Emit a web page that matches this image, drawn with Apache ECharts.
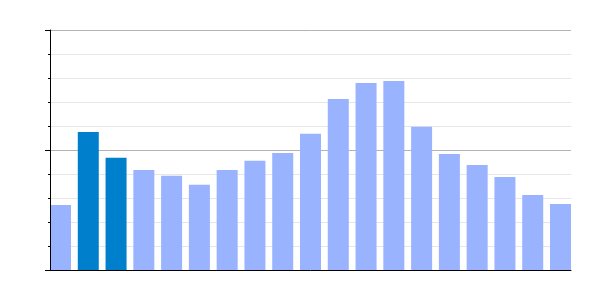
<!DOCTYPE html>
<html><head><meta charset="utf-8">
<script src="https://cdn.jsdelivr.net/npm/echarts@6/dist/echarts.min.js"></script>
<style>html,body{margin:0;padding:0;background:#fff}#c{width:600px;height:300px}</style>
</head><body><div id="c"></div>
<script>
const categories = ['1','2','3','4','5','6','7','8','9','10','11','12','13','14','15','16','17','18','19'];
const values = [27.1, 57.5, 46.8, 41.7, 39.3, 35.5, 41.7, 45.5, 48.75, 56.8, 71.25, 77.9, 78.75, 59.7, 48.3, 43.75, 38.75, 31.25, 27.5];
const highlighted = [1, 2];
const yMin = 0, yMax = 100, yInterval = 50;

const chart = echarts.init(document.getElementById('c'), null, {renderer: 'canvas'});
chart.setOption({
  animation: false,
  grid: {left: 50, right: 29, top: 30, bottom: 30},
  xAxis: {
    type: 'value', min: -0.378, max: categories.length - 1 + 0.378, z: 5,
    axisLine: {show: true, onZero: false, lineStyle: {color: '#000', width: 1}},
    axisTick: {show: false}, axisLabel: {show: false}, splitLine: {show: false}
  },
  yAxis: [{
    type: 'value', min: yMin, max: yMax, interval: yInterval, z: 0, position: 'left',
    axisLine: {show: false}, axisTick: {show: false}, axisLabel: {show: false},
    splitLine: {show: true, lineStyle: {color: '#b3b3b3', width: 1}},
    minorTick: {show: false, splitNumber: 5},
    minorSplitLine: {show: true, lineStyle: {color: '#e6e6e6', width: 1}}
  }, {
    type: 'value', min: yMin, max: yMax, interval: yInterval, z: 5, position: 'left', offset: 0,
    axisLine: {show: true, onZero: false, lineStyle: {color: '#000', width: 1}},
    axisTick: {show: true, length: 5, lineStyle: {color: '#000'}},
    minorTick: {show: true, splitNumber: 5, length: 2, lineStyle: {color: '#000'}},
    axisLabel: {show: false},
    splitLine: {show: false}, minorSplitLine: {show: false}
  }],
  series: [{
    type: 'bar', barWidth: 21, z: 2, yAxisIndex: 0,
    data: values.map((v, i) => ({
      value: [i, v],
      itemStyle: {color: highlighted.includes(i) ? '#007fcc' : '#99b3ff'}
    }))
  }]
});
</script></body></html>
